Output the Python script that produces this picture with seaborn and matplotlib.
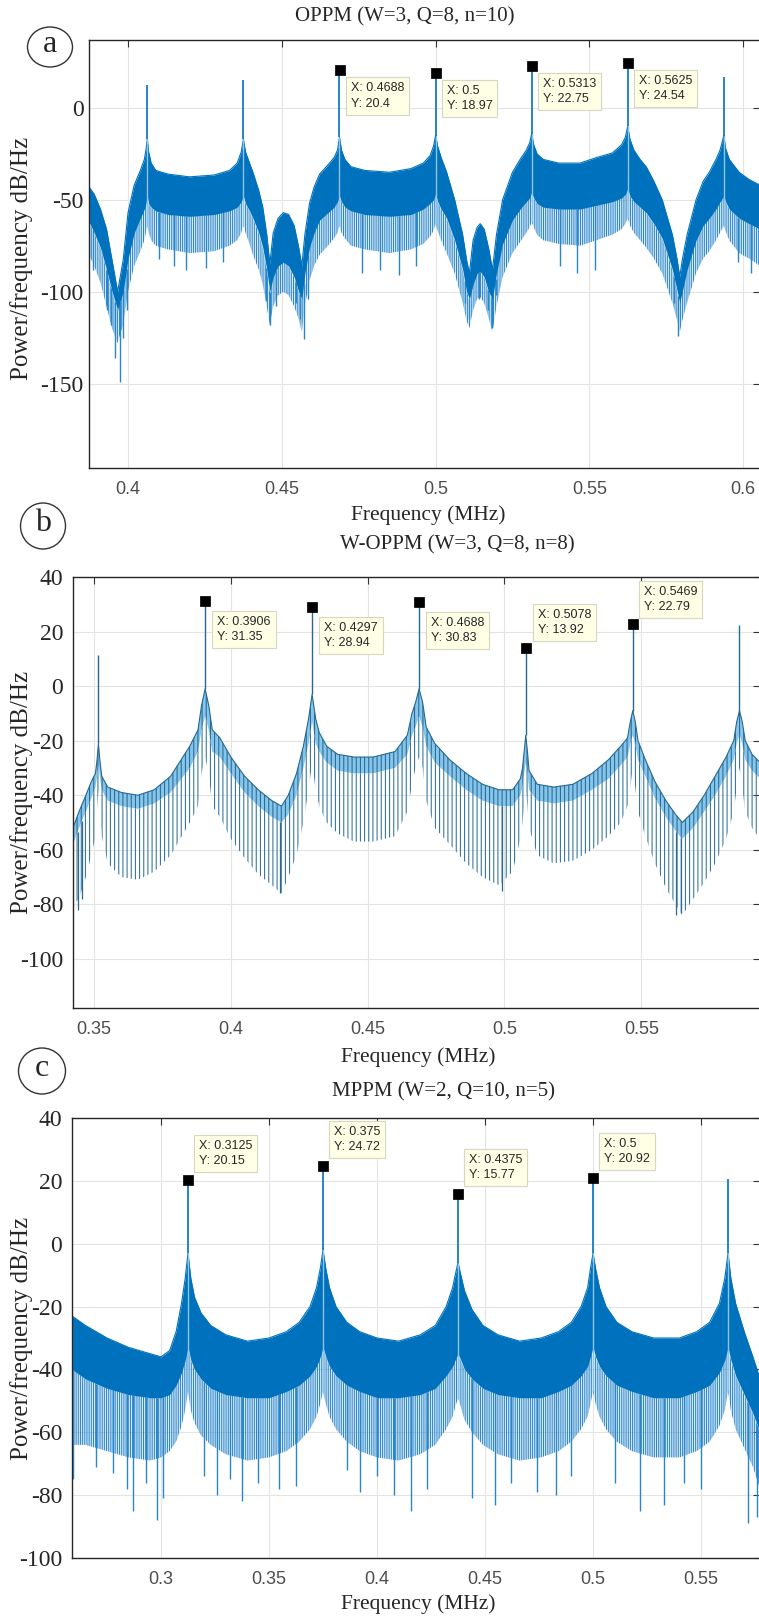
import numpy as np
import seaborn as sns
from matplotlib import pyplot as plt
from matplotlib.patches import Ellipse

# ---------------- panel a : OPPM (W=3, Q=8, n=10) ----------------
a_f = [0.3873, 0.3890, 0.3910, 0.3930, 0.3948, 0.3966,
       0.3984, 0.4000, 0.4020, 0.4040, 0.4053, 0.4058, 0.40625, 0.4067, 0.4075, 0.4090, 0.4130,
       0.4200, 0.4280, 0.4330, 0.4355, 0.4368, 0.4375, 0.4382, 0.4395, 0.4406, 0.4425, 0.4438,
       0.4451, 0.4461,
       0.4472, 0.4488, 0.4505, 0.4522, 0.4540, 0.4555, 0.4565,
       0.4575, 0.4590, 0.4605, 0.4623, 0.4650, 0.4670, 0.4681, 0.46875, 0.4694, 0.4705, 0.4725,
       0.4770, 0.4850, 0.4920, 0.4960, 0.4982, 0.4993, 0.5000, 0.5007, 0.5018, 0.5036, 0.5062,
       0.5088, 0.5101, 0.5110,
       0.5122, 0.5135, 0.5145, 0.5158, 0.5172, 0.5185,
       0.5198, 0.5218, 0.5250, 0.5275, 0.5295, 0.5306, 0.53125, 0.5319, 0.5330, 0.5350, 0.5400,
       0.5470, 0.5523, 0.5575, 0.5605, 0.5617, 0.5625, 0.5632, 0.5645, 0.5665, 0.5685, 0.5710,
       0.5737, 0.5770, 0.5786, 0.5794,
       0.5802, 0.5818, 0.5847, 0.5870, 0.5890, 0.5912, 0.5925, 0.59375, 0.5943, 0.5955, 0.5987,
       0.6020, 0.6055]
a_top = [-43, -47, -55, -66, -83, -100,
         -83, -57, -42, -34, -28, -23, -17, -24, -30, -34, -36,
         -37.5, -36.5, -34, -30, -24, -17, -24, -30, -35, -45, -54,
         -69, -85,
         -68, -60, -57, -58, -64, -76, -86,
         -69, -52, -43, -36, -31, -27, -23, -16, -23, -28, -32,
         -34, -35, -33, -30, -26, -21, -15, -21, -27, -35, -50,
         -69, -83, -90,
         -72, -65, -63, -66, -76, -88,
         -69, -50, -35, -28, -23, -19, -14, -20, -25, -28, -30,
         -30, -27, -24.5, -20, -16, -10, -17, -23, -28, -32, -40,
         -50, -69, -83, -92,
         -83, -69, -50, -40, -35, -28, -23, -15, -22, -28, -35,
         -39, -42]
a_low = [-62, -68, -76, -88, -100, -110,
         -100, -82, -68, -60, -55, -52, -48, -52, -54, -56, -58,
         -59, -58, -56, -54, -51, -48, -52, -56, -60, -68, -76,
         -88, -100,
         -92, -86, -84, -86, -92, -100, -104,
         -90, -76, -68, -61, -57, -54, -51, -48, -51, -54, -56,
         -58, -59, -58, -55, -52, -50, -47, -51, -55, -60, -72,
         -88, -100, -104,
         -96, -90, -89, -92, -100, -104,
         -90, -74, -61, -55, -51, -49, -46, -49, -52, -54, -55,
         -55, -53, -51, -49, -47, -44, -48, -51, -54, -57, -63,
         -71, -88, -100, -106,
         -100, -88, -72, -64, -60, -55, -51, -48, -51, -55, -60,
         -63, -66]
a_spk = [-80, -86, -95, -108, -120, -128,
         -118, -100, -86, -78, -72, -68, -64, -68, -72, -75, -77,
         -79, -78, -75, -72, -68, -64, -68, -74, -80, -88, -96,
         -108, -118,
         -108, -102, -100, -102, -108, -115, -122,
         -108, -94, -86, -80, -75, -71, -68, -64, -68, -71, -75,
         -77, -79, -77, -74, -70, -67, -63, -67, -72, -79, -90,
         -106, -116, -120,
         -110, -104, -103, -106, -114, -122,
         -108, -92, -79, -73, -68, -65, -62, -65, -69, -72, -74,
         -75, -72, -69, -66, -63, -60, -64, -68, -72, -76, -82,
         -90, -106, -116, -122,
         -116, -106, -90, -82, -78, -72, -68, -64, -67, -72, -79,
         -82, -86]
a_deep_f = [0.3885, 0.3930, 0.3945, 0.3958, 0.3974, 0.3985, 0.3995, 0.4100, 0.4150, 0.4190, 0.4255,
            0.4310, 0.4450, 0.4461, 0.4480, 0.4545, 0.4558, 0.4571, 0.4585, 0.4760, 0.4820, 0.4880,
            0.4935, 0.5095, 0.5110, 0.5140, 0.5170, 0.5182, 0.5195, 0.5405, 0.5460, 0.5520, 0.5775,
            0.5789, 0.5802, 0.5985, 0.6025]
a_deep_db = [-88, -110, -118, -136, -149, -125, -110, -82, -86, -88, -87,
             -84, -105, -118, -108, -106, -115, -126, -104, -90, -88, -91,
             -86, -106, -115, -104, -110, -120, -102, -86, -90, -88, -106,
             -124, -100, -84, -90]
a_peak_f = [0.40625, 0.4375, 0.46875, 0.5, 0.53125, 0.5625, 0.59375]
a_peak_db = [12.5, 15.0, 20.4, 18.97, 22.75, 24.54, 17.0]
a_mark_x = [0.4688, 0.5, 0.5313, 0.5625]
a_mark_y = [20.4, 18.97, 22.75, 24.54]

# ---------------- panel b : W-OPPM (W=3, Q=8, n=8) ----------------
b_f = [0.3423, 0.3445, 0.3470, 0.3490, 0.3505, 0.3511, 0.3516, 0.3521, 0.3528, 0.3550, 0.3600,
       0.3660, 0.3720, 0.3780, 0.3850, 0.3880, 0.3893, 0.3906, 0.3919, 0.3932, 0.3960, 0.4000,
       0.4050, 0.4100, 0.4150, 0.4185, 0.4210, 0.4240, 0.4265, 0.4284, 0.4297, 0.4310, 0.4323,
       0.4350, 0.4390, 0.4450, 0.4520, 0.4600, 0.4645, 0.4662, 0.4675, 0.4688, 0.4701, 0.4714,
       0.4745, 0.4800, 0.4860, 0.4920, 0.4980, 0.5030, 0.5058, 0.5066, 0.5072, 0.5078, 0.5084,
       0.5090, 0.5120, 0.5180, 0.5250, 0.5320, 0.5380, 0.5425, 0.5450, 0.5460, 0.5469, 0.5478,
       0.5488, 0.5515, 0.5550, 0.5590, 0.5625, 0.5650, 0.5690, 0.5730, 0.5770, 0.5810, 0.5838,
       0.5849, 0.5859, 0.5869, 0.5880, 0.5905, 0.5934]
b_top = [-52, -46, -40, -35, -32, -27, -21, -27, -33, -37, -39,
         -40, -38, -33, -22, -16, -7, -1, -7, -16, -19, -26,
         -33, -38, -42, -44, -40, -32, -22, -12, -3, -12, -17,
         -22, -25, -26, -26, -24, -18, -10, -6, -1, -6, -15,
         -21, -27, -32, -36, -38, -38, -34, -30, -24, -18, -24,
         -31, -36, -37, -36, -32, -27, -22, -19, -13, -9, -13,
         -20, -27, -35, -42, -47, -50, -46, -40, -33, -26, -20,
         -13, -9, -13, -20, -25, -28]
b_floor = [-58, -52, -46, -41, -37, -33, -29, -33, -38, -42, -44,
           -45, -43, -39, -30, -24, -16, -11, -16, -24, -26, -32,
           -39, -44, -48, -50, -47, -40, -30, -21, -13, -21, -24,
           -28, -31, -32, -32, -30, -25, -18, -15, -11, -15, -22,
           -28, -33, -38, -42, -44, -44, -40, -37, -32, -28, -32,
           -38, -42, -43, -42, -38, -34, -29, -26, -21, -18, -21,
           -27, -33, -41, -48, -53, -56, -52, -46, -40, -33, -27,
           -21, -18, -21, -27, -31, -34]
b_null = [-80, -78, -70, -62, -55, -45, -38, -45, -55, -65, -70,
          -71, -68, -62, -50, -44, -32, -26, -32, -44, -48, -56,
          -63, -69, -73, -76, -70, -62, -50, -38, -28, -38, -44,
          -50, -54, -57, -57, -55, -46, -36, -30, -26, -30, -42,
          -52, -58, -65, -70, -73, -68, -56, -50, -44, -38, -44,
          -52, -62, -65, -64, -60, -55, -50, -44, -37, -30, -37,
          -46, -55, -65, -74, -80, -84, -78, -72, -65, -56, -46,
          -37, -30, -37, -46, -52, -56]
b_deep_f = [0.3440, 0.3455, 0.4179, 0.4990, 0.5628, 0.5646]
b_deep_db = [-82, -78, -76, -75, -84, -83]
b_peak_f = [0.3516, 0.3906, 0.4297, 0.4688, 0.5078, 0.5469, 0.5859]
b_peak_db = [11.5, 31.35, 28.94, 30.83, 13.92, 22.79, 22.5]
b_mark_x = [0.3906, 0.4297, 0.4688, 0.5078, 0.5469]
b_mark_y = [31.35, 28.94, 30.83, 13.92, 22.79]

# ---------------- panel c : MPPM (W=2, Q=10, n=5) ----------------
c_f = [0.2588, 0.2650, 0.2750, 0.2850, 0.2950, 0.3000, 0.3040, 0.3070, 0.3095, 0.3112, 0.3125,
       0.3138, 0.3155, 0.3185, 0.3230, 0.3300, 0.3400, 0.3500, 0.3580, 0.3640, 0.3690, 0.3720,
       0.3737, 0.3750, 0.3763, 0.3780, 0.3810, 0.3860, 0.3920, 0.4000, 0.4100, 0.4200, 0.4270,
       0.4320, 0.4350, 0.4362, 0.4375, 0.4388, 0.4405, 0.4440, 0.4490, 0.4560, 0.4660, 0.4760,
       0.4840, 0.4900, 0.4945, 0.4975, 0.4988, 0.5000, 0.5012, 0.5030, 0.5060, 0.5110, 0.5180,
       0.5280, 0.5400, 0.5480, 0.5540, 0.5585, 0.5610, 0.5625, 0.5638, 0.5660, 0.5700, 0.5740,
       0.5773]
c_top = [-23, -26, -30, -33, -35, -36, -34, -28, -19, -11, -3,
         -11, -17, -22, -26, -29, -31, -30, -28, -25, -20, -14,
         -8, -2, -8, -14, -20, -25, -28, -30, -31, -29, -26,
         -20, -14, -10, -6, -10, -15, -21, -26, -29, -31, -30,
         -28, -25, -20, -14, -8, -3, -8, -14, -20, -25, -28,
         -30, -30, -28, -25, -19, -11, -3, -11, -19, -28, -36,
         -43]
c_low = [-40, -43, -46, -48, -49, -49, -48, -45, -41, -37, -33,
         -37, -40, -43, -46, -48, -49, -49, -47, -45, -42, -39,
         -36, -33, -36, -39, -42, -45, -47, -49, -49, -48, -46,
         -42, -39, -37, -35, -37, -40, -43, -46, -48, -49, -49,
         -47, -45, -42, -39, -36, -33, -36, -39, -42, -45, -47,
         -49, -49, -47, -45, -41, -37, -33, -37, -42, -48, -54,
         -60]
c_spk = [-64, -64, -66, -68, -69, -68, -66, -63, -58, -53, -47,
         -53, -57, -61, -64, -67, -69, -68, -66, -63, -59, -55,
         -51, -47, -51, -55, -59, -63, -66, -68, -69, -67, -64,
         -59, -55, -52, -49, -52, -56, -60, -64, -67, -69, -68,
         -66, -63, -59, -55, -51, -47, -51, -55, -59, -63, -66,
         -68, -68, -66, -63, -58, -53, -47, -53, -59, -65, -71,
         -78]
c_deep_f = [0.2593, 0.2700, 0.2780, 0.2843, 0.2870, 0.2930, 0.2982, 0.3010, 0.3200, 0.3260, 0.3320,
            0.3375, 0.3450, 0.3545, 0.3625, 0.3860, 0.3920, 0.4000, 0.4080, 0.4157, 0.4230, 0.4440,
            0.4546, 0.4620, 0.4740, 0.4829, 0.4900, 0.5100, 0.5218, 0.5329, 0.5420, 0.5500, 0.5718,
            0.5760]
c_deep_db = [-75, -71, -73, -78, -85, -76, -88, -81, -74, -80, -75,
             -82, -76, -78, -77, -72, -79, -74, -80, -85, -78, -81,
             -83, -76, -79, -80, -74, -76, -85, -83, -76, -78, -89,
             -87]
c_peak_f = [0.3125, 0.375, 0.4375, 0.5, 0.5625]
c_peak_db = [20.15, 24.72, 15.77, 20.92, 20.5]
c_mark_x = [0.3125, 0.375, 0.4375, 0.5]
c_mark_y = [20.15, 24.72, 15.77, 20.92]

# ---------------- styling ----------------
sns.set_theme(style='white')
plt.rcParams['font.family'] = ['Liberation Serif', 'DejaVu Serif']
plt.rcParams['hatch.linewidth'] = 0.75

BLUE = '#0072bd'
SPIKE = '#2a86cb'
LOBE = '#86c5ec'
LOBE_EDGE = '#28688f'
W, H = 759, 1618

fig = plt.figure(figsize=(W / 100, H / 100), dpi=100)


def frac(x, y):
    return x / W, 1 - y / H


def make_axes(l, t, r, b):
    return fig.add_axes([l / W, 1 - b / H, (r - l) / W, (b - t) / H])


def style_axes(ax, xlim, ylim, xticks, yticks, ypad):
    ax.set_xlim(xlim)
    ax.set_ylim(ylim)
    ax.set_xticks(xticks)
    ax.set_xticklabels(['%g' % v for v in xticks], family='Liberation Sans',
                       color='#4d4d4d', fontsize=13)
    ax.set_yticks(yticks)
    ax.set_yticklabels([str(v) for v in yticks], fontsize=17)
    ax.tick_params(direction='in', top=True, right=True, length=5, width=0.8,
                   color='#333333')
    ax.tick_params(axis='x', pad=9)
    ax.tick_params(axis='y', pad=ypad)
    ax.grid(True, color='#e4e4e4', lw=0.8)
    ax.set_axisbelow(True)
    for s in ax.spines.values():
        s.set_color('#262626')
        s.set_linewidth(1.0)
    ax.set_xlabel('')
    ax.set_ylabel('')


def hatch_band(ax, f, lo, hi, color, pattern, face='none', z=2):
    with plt.rc_context({'hatch.color': color}):
        ax.fill_between(f, lo, hi, facecolor=face, edgecolor=color,
                        hatch=pattern, lw=0, zorder=z)


def dense_spectrum(ax, f, top, low, spk, deep_f, deep_db, peak_f, peak_db):
    f = np.asarray(f)
    ax.vlines(deep_f, deep_db, np.interp(deep_f, f, low), color=SPIKE, lw=1.0, zorder=1.5)
    hatch_band(ax, f, spk, low, SPIKE, '|||||||||', z=1.8)
    ax.fill_between(f, low, top, color=BLUE, lw=0, zorder=2)
    sns.lineplot(x=f, y=top, ax=ax, color=BLUE, lw=0.8, zorder=2.1)
    # light centre line through each cusp
    ax.vlines(peak_f, np.interp(peak_f, f, spk), np.interp(peak_f, f, top),
              color='#8cc6ee', lw=1.0, zorder=2.2)
    ax.vlines(peak_f, np.interp(peak_f, f, top), peak_db, color=BLUE, lw=1.2, zorder=2.3)


def lobe_spectrum(ax, f, top, floor, null, deep_f, deep_db, peak_f, peak_db):
    f = np.asarray(f)
    ax.vlines(deep_f, deep_db, np.interp(deep_f, f, floor), color=LOBE_EDGE, lw=0.9, zorder=1.5)
    hatch_band(ax, f, null, floor, '#2f7099', '||||', z=1.8)
    hatch_band(ax, f, floor, top, LOBE_EDGE, '||||', face=LOBE, z=2)
    sns.lineplot(x=f, y=top, ax=ax, color=LOBE_EDGE, lw=0.8, zorder=2.1)
    ax.vlines(peak_f, np.interp(peak_f, f, top), peak_db, color=LOBE_EDGE, lw=1.0, zorder=2.3)


def datatips(ax, xs, ys, offsets):
    sns.scatterplot(x=xs, y=ys, ax=ax, marker='s', color='black', s=42,
                    edgecolor='black', zorder=5, legend=False)
    for x, y, (dx, dy) in zip(xs, ys, offsets):
        ax.annotate('X: %g\nY: %g' % (x, y), xy=(x, y), xytext=(dx, dy),
                    textcoords='offset pixels', ha='left',
                    va='top' if dy < 0 else 'bottom',
                    fontsize=9, family='Liberation Sans', color='#262626',
                    linespacing=1.35, zorder=6,
                    bbox=dict(boxstyle='square,pad=0.4', fc='#ffffe6',
                              ec='#d6d6c2', lw=0.8))


def label_circle(x, y, w, h, letter):
    fig.add_artist(Ellipse(frac(x, y), w / W, h / H, transform=fig.transFigure,
                           fill=False, ec='#333333', lw=1.0))
    fig.text(*frac(x, y - 2), letter, fontsize=23, ha='center', va='center')


def texts(title_xy, title, xlab_xy, ylab_y):
    fig.text(*frac(*title_xy), title, fontsize=15, ha='center', va='center')
    fig.text(*frac(*xlab_xy), 'Frequency (MHz)', fontsize=15.5, ha='center', va='center')
    fig.text(*frac(22, ylab_y), 'Power/frequency dB/Hz', fontsize=18,
             ha='center', va='center', rotation=90)


# panel a
ax = make_axes(89, 40, 760, 468)
dense_spectrum(ax, a_f, a_top, a_low, a_spk, a_deep_f, a_deep_db, a_peak_f, a_peak_db)
datatips(ax, a_mark_x, a_mark_y, [(11, -12)] * 4)
style_axes(ax, (0.3873, 0.6055), (-196, 37), [0.4, 0.45, 0.5, 0.55, 0.6],
           [-150, -100, -50, 0], 4)
texts((405, 17), 'OPPM (W=3, Q=8, n=10)', (428, 515), 258)
label_circle(50, 47, 45, 40, 'a')

# panel b
ax = make_axes(73, 577, 760, 1008)
lobe_spectrum(ax, b_f, b_top, b_floor, b_null, b_deep_f, b_deep_db, b_peak_f, b_peak_db)
datatips(ax, b_mark_x, b_mark_y, [(12, -15), (12, -15), (12, -15), (12, 12), (11, 11)])
style_axes(ax, (0.3423, 0.5934), (-118, 40), [0.35, 0.4, 0.45, 0.5, 0.55],
           list(range(-100, 41, 20)), 7)
texts((457, 545), 'W-OPPM (W=3, Q=8, n=8)', (418, 1057), 792)
label_circle(43, 526, 45, 46, 'b')

# panel c
ax = make_axes(72, 1118, 760, 1558)
dense_spectrum(ax, c_f, c_top, c_low, c_spk, c_deep_f, c_deep_db, c_peak_f, c_peak_db)
datatips(ax, c_mark_x, c_mark_y, [(11, 13)] * 4)
style_axes(ax, (0.2588, 0.5773), (-100, 40), [0.3, 0.35, 0.4, 0.45, 0.5, 0.55],
           list(range(-100, 41, 20)), 7)
texts((443, 1092), 'MPPM (W=2, Q=10, n=5)', (418, 1604), 1338)
label_circle(42, 1071, 47, 46, 'c')

fig.savefig('out.png', dpi=100)
